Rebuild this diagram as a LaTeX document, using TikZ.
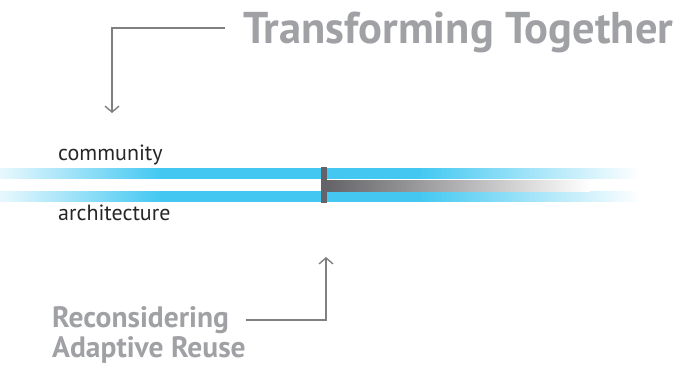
\documentclass[tikz,border=0pt]{standalone}
\usepackage{fontspec}
\setmainfont{PT Sans}
\usepackage{tikz}
\usetikzlibrary{arrows.meta,positioning,calc}
\definecolor{barblue}{RGB}{68,200,242}
\definecolor{markgray}{RGB}{100,100,104}
\definecolor{titlegray}{RGB}{160,161,165}
\definecolor{linegray}{RGB}{128,128,130}

% blue band: faint at the left, solid in the middle, fading out on the right
\pgfdeclarehorizontalshading{blueband}{100bp}{color(0bp)=(barblue!12); color(25bp)=(barblue!12);
  color(37.5bp)=(barblue); color(57.8bp)=(barblue); color(75bp)=(white); color(100bp)=(white)}

\tikzset{
  bartext/.style={anchor=base west, inner sep=0pt, text=black!85, font=\fontsize{22}{24}\selectfont},
  headtext/.style={anchor=base west, inner sep=0pt, text=titlegray, font=\bfseries\fontsize{44.5}{48}\selectfont},
  subtext/.style={anchor=base west, inner sep=0pt, text=titlegray, font=\bfseries\fontsize{29.5}{32}\selectfont},
  pointer/.style={draw=linegray, line width=1.4pt, -{Straight Barb[length=6pt,width=14pt,line width=1.4pt]}}
}

\begin{document}
\begin{tikzpicture}[x=1pt,y=-1pt]
\useasboundingbox (0,0) rectangle (674,366);

% blue bars
\foreach \yy in {169,191} {
  \shade[shading=blueband] (0,\yy) rectangle (640,\yy+10);
}

% gray bar between
\shade[left color=markgray, right color=white] (326,181) rectangle (590,191);

% marker
\fill[markgray] (321,167) rectangle (327,203);

% labels
\node[bartext] (comm) at (58,160.5) {community};
\node[bartext] (arch) at (58,220.5) {architecture};

% titles
\node[headtext] (title) at (243,44) {Transforming Together};
\node[subtext] (recon) at (52,327) {Reconsidering};
\node[subtext] (adapt) at (52,357.5) {Adaptive Reuse};

% pointers
\coordinate (topend) at (112,113);
\coordinate (botend) at (326,257);
\draw[pointer] ([xshift=-18pt]title.west |- 0,28) -| (topend);
\draw[pointer] ([xshift=17pt]recon.east |- 0,320) -| (botend);
\end{tikzpicture}
\end{document}
